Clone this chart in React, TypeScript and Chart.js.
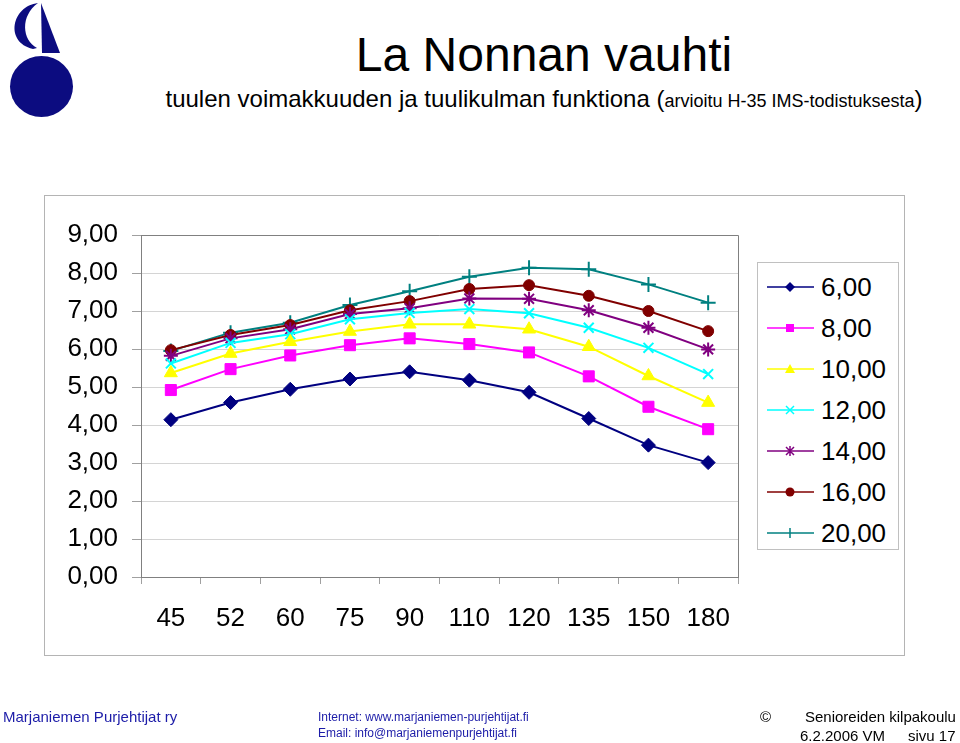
import React, { useEffect, useRef } from "react";
import { Chart, registerables } from "chart.js";

Chart.register(...registerables);

const categories = ["45", "52", "60", "75", "90", "110", "120", "135", "150", "180"];
const seriesNames = ["6,00", "8,00", "10,00", "12,00", "14,00", "16,00", "20,00"];
const s6 = [4.14, 4.59, 4.94, 5.21, 5.4, 5.18, 4.86, 4.17, 3.47, 3.01];
const s8 = [4.92, 5.47, 5.83, 6.1, 6.28, 6.13, 5.91, 5.28, 4.48, 3.89];
const s10 = [5.37, 5.88, 6.19, 6.46, 6.65, 6.65, 6.52, 6.06, 5.29, 4.59];
const s12 = [5.62, 6.16, 6.39, 6.78, 6.95, 7.05, 6.94, 6.56, 6.03, 5.34];
const s14 = [5.82, 6.28, 6.52, 6.92, 7.07, 7.33, 7.32, 7.02, 6.56, 5.99];
const s16 = [5.97, 6.37, 6.63, 7.02, 7.26, 7.58, 7.68, 7.4, 7.0, 6.47];
const s20 = [5.95, 6.43, 6.69, 7.16, 7.52, 7.9, 8.14, 8.1, 7.7, 7.22];
const yTicks = [0, 1, 2, 3, 4, 5, 6, 7, 8, 9];

const seriesValues = [s6, s8, s10, s12, s14, s16, s20];
const colors = ["#000080", "#ff00ff", "#ffff00", "#00ffff", "#800080", "#800000", "#008080"];
const styles = ["rectRot", "rect", "triangle", "crossRot", "star", "circle", "cross"];
const radii = [7, 7.8, 7.5, 7, 7, 5.5, 7.5];

const FONT = "'Liberation Sans', Arial, Helvetica, sans-serif";

const plotBorder = {
  id: "plotBorder",
  afterDraw(chart: any) {
    const { ctx, chartArea } = chart;
    ctx.save();
    ctx.strokeStyle = "#808080";
    ctx.lineWidth = 1;
    ctx.beginPath();
    ctx.moveTo(chartArea.left, chartArea.top + 0.5);
    ctx.lineTo(chartArea.right + 0.5, chartArea.top + 0.5);
    ctx.lineTo(chartArea.right + 0.5, chartArea.bottom);
    ctx.stroke();
    ctx.restore();
  },
};

function LegendMarker({ i }: { i: number }) {
  const c = colors[i];
  const cx = 23;
  const cy = 8;
  let m: any = null;
  if (i === 0) m = <polygon points={`${cx},${cy - 5} ${cx + 5},${cy} ${cx},${cy + 5} ${cx - 5},${cy}`} fill={c} />;
  if (i === 1) m = <rect x={cx - 4} y={cy - 4} width={8} height={8} fill={c} />;
  if (i === 2) m = <polygon points={`${cx},${cy - 5} ${cx + 5},${cy + 4} ${cx - 5},${cy + 4}`} fill={c} />;
  if (i === 3)
    m = <path d={`M${cx - 4},${cy - 4} L${cx + 4},${cy + 4} M${cx + 4},${cy - 4} L${cx - 4},${cy + 4}`} stroke={c} strokeWidth={1.5} />;
  if (i === 4)
    m = (
      <path
        d={`M${cx - 4},${cy - 4} L${cx + 4},${cy + 4} M${cx + 4},${cy - 4} L${cx - 4},${cy + 4} M${cx},${cy - 5} L${cx},${cy + 5}`}
        stroke={c}
        strokeWidth={1.5}
      />
    );
  if (i === 5) m = <circle cx={cx} cy={cy} r={4.5} fill={c} />;
  if (i === 6) m = <path d={`M${cx},${cy - 5} L${cx},${cy + 5}`} stroke={c} strokeWidth={1.5} />;
  return (
    <svg width={47} height={16} style={{ position: "absolute", left: 9, top: -8 }}>
      <line x1={0} y1={cy} x2={47} y2={cy} stroke={c} strokeWidth={1.5} />
      {m}
    </svg>
  );
}

export default function App() {
  const ref = useRef<HTMLCanvasElement | null>(null);

  useEffect(() => {
    if (!ref.current) return;
    const chart = new Chart(ref.current, {
      type: "line",
      data: {
        labels: categories,
        datasets: seriesValues.map((vals, i) => ({
          label: seriesNames[i],
          data: vals,
          borderColor: colors[i],
          backgroundColor: colors[i],
          pointBackgroundColor: colors[i],
          pointBorderColor: colors[i],
          pointStyle: styles[i] as any,
          pointRadius: radii[i],
          pointBorderWidth: i === 3 || i === 4 || i === 6 ? 2 : 1,
          borderWidth: 2,
          tension: 0,
          fill: false,
        })),
      },
      options: {
        responsive: false,
        animation: false,
        events: [],
        layout: { padding: { left: 0, top: 235, right: 222, bottom: 0 } },
        plugins: { legend: { display: false }, title: { display: false }, tooltip: { enabled: false } },
        scales: {
          x: {
            type: "category",
            offset: true,
            grid: {
              offset: true,
              drawOnChartArea: false,
              drawTicks: true,
              tickLength: 7,
              tickColor: "#a0a0a0",
            },
            border: { color: "#808080", width: 1 },
            ticks: {
              color: "#000",
              font: { family: FONT, size: 26 },
              padding: 19,
              maxRotation: 0,
              autoSkip: false,
            },
            afterFit(scale: any) {
              scale.height = 166;
            },
          },
          y: {
            min: 0,
            max: 9,
            afterBuildTicks(scale: any) {
              scale.ticks = yTicks.map((v) => ({ value: v }));
            },
            grid: { color: "#d4d4d4", tickColor: "#a0a0a0", tickLength: 9, lineWidth: 1 },
            border: { color: "#808080", width: 1 },
            ticks: {
              color: "#000",
              font: { family: FONT, size: 26 },
              padding: 14,
              callback: (v: any) => Number(v).toFixed(2).replace(".", ","),
            },
            afterFit(scale: any) {
              scale.width = 141;
            },
          },
        },
      },
      plugins: [plotBorder],
    });
    return () => chart.destroy();
  }, []);

  return (
    <div style={{ position: "absolute", left: 0, top: 0, width: 960, height: 743, background: "#fff", fontFamily: FONT, overflow: "hidden" }}>
      <svg width={80} height={120} style={{ position: "absolute", left: 0, top: 0 }}>
        <path d="M38,3 C12,6 4,42 33,49 L37,48 C22,40 20,16 38,3 Z" fill="#0c0c80" />
        <polygon points="41,3 42,53 60,53" fill="#0c0c80" />
        <ellipse cx={41.5} cy={86.5} rx={31.5} ry={30.5} fill="#0c0c80" />
      </svg>
      <div style={{ position: "absolute", left: 128, width: 832, top: 31, textAlign: "center", fontSize: 48, lineHeight: "48px", color: "#000", whiteSpace: "nowrap" }}>
        La Nonnan vauhti
      </div>
      <div style={{ position: "absolute", left: 128, width: 832, top: 87, textAlign: "center", fontSize: 24, lineHeight: "24px", color: "#000", whiteSpace: "nowrap" }}>
        tuulen voimakkuuden ja tuulikulman funktiona (<span style={{ fontSize: 18 }}>arvioitu H-35 IMS-todistuksesta</span>)
      </div>
      <div style={{ position: "absolute", left: 44, top: 195, width: 859, height: 459, border: "1px solid #b4b4b4" }} />
      <canvas ref={ref} width={960} height={743} style={{ position: "absolute", left: 0, top: 0, width: 960, height: 743 }} />
      <div style={{ position: "absolute", left: 757, top: 262, width: 140, height: 286, border: "1px solid #c0c0c0", background: "#fff" }}>
        {seriesNames.map((n, i) => (
          <div key={n} style={{ position: "absolute", left: 0, top: 23.5 + 41 * i, width: 140, height: 0 }}>
            <LegendMarker i={i} />
            <div style={{ position: "absolute", left: 63, top: -15, fontSize: 26, lineHeight: "30px", color: "#000", whiteSpace: "nowrap" }}>{n}</div>
          </div>
        ))}
      </div>
      <div style={{ position: "absolute", left: 3, top: 709, fontSize: 15, lineHeight: "15px", color: "#1c1ca8", whiteSpace: "nowrap" }}>
        Marjaniemen Purjehtijat ry
      </div>
      <div style={{ position: "absolute", left: 318, top: 709, fontSize: 12, lineHeight: "16px", color: "#1c1ca8", whiteSpace: "nowrap" }}>
        Internet: www.marjaniemen-purjehtijat.fi
        <br />
        Email: info@marjaniemenpurjehtijat.fi
      </div>
      <div style={{ position: "absolute", left: 760, top: 709, fontSize: 15, lineHeight: "15px", color: "#000", whiteSpace: "nowrap" }}>©</div>
      <div style={{ position: "absolute", left: 805, top: 709, fontSize: 15, lineHeight: "15px", color: "#000", whiteSpace: "nowrap" }}>
        Senioreiden kilpakoulu
      </div>
      <div style={{ position: "absolute", left: 800, top: 728, fontSize: 15, lineHeight: "15px", color: "#000", whiteSpace: "nowrap" }}>
        6.2.2006 VM
      </div>
      <div style={{ position: "absolute", left: 908, top: 728, fontSize: 15, lineHeight: "15px", color: "#000", whiteSpace: "nowrap" }}>
        sivu 17
      </div>
    </div>
  );
}
